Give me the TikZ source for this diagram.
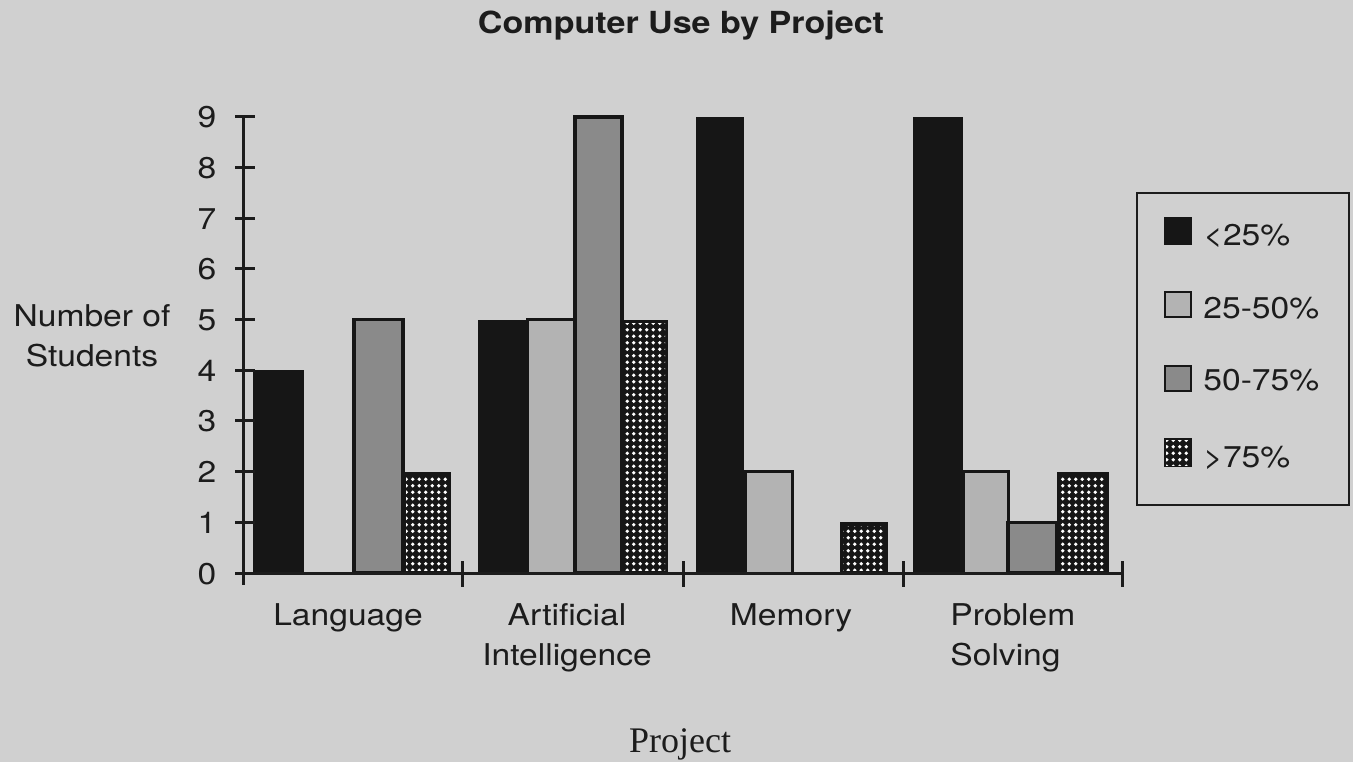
\documentclass[tikz,border=0pt]{standalone}
\usepackage{fontspec}
\usepackage{graphicx}
\setmainfont{TeX Gyre Heros}
\newfontfamily\projserif{Liberation Serif}
\usetikzlibrary{patterns}
\pgfdeclarepatternformonly{bigdots}{\pgfqpoint{-1pt}{-1pt}}{\pgfqpoint{4.3pt}{4.3pt}}{\pgfqpoint{3.25pt}{3.25pt}}{\pgfpathcircle{\pgfqpoint{1.6pt}{1.6pt}}{0.95pt}\pgfusepath{fill}}
\definecolor{bg}{HTML}{D0D0D0}
\definecolor{ink}{HTML}{1C1C1C}
\definecolor{barblack}{HTML}{161616}
\definecolor{lightg}{HTML}{B3B3B3}
\definecolor{darkg}{HTML}{8A8A8A}
\newcommand{\hstr}[1]{\scalebox{1.12}[1]{#1}}
\newcommand{\ybase}{573}
\newcommand{\yunit}{50.7}
\newcommand{\blackbar}[3]{\fill[barblack] (#1,{\ybase-\yunit*#3}) rectangle (#2,\ybase);}
\newcommand{\lightbar}[3]{\draw[lightbarst] (#1,{\ybase-\yunit*#3}) rectangle (#2,\ybase);}
\newcommand{\darkbar}[3]{\draw[darkbarst] (#1,{\ybase-\yunit*#3}) rectangle (#2,\ybase);}
\newcommand{\dotbar}[3]{\fill[barblack] (#1,{\ybase-\yunit*#3}) rectangle (#2,\ybase);
  \fill[pattern=bigdots,pattern color=white] ({#1+3},{\ybase-\yunit*#3+4}) rectangle ({#2-3},{\ybase-3});}
\begin{document}
\begin{tikzpicture}[x=0.5pt,y=-0.5pt,
  lbl/.style={font=\fontsize{15}{20}\selectfont, text=ink, inner sep=0pt},
  lightbarst/.style={fill=lightg, draw=barblack, line width=1.5pt},
  darkbarst/.style={fill=darkg, draw=barblack, line width=1.8pt},
  axisline/.style={draw=ink, line width=1.5pt},
  legbox/.style={draw=ink, line width=1.2pt}]
\fill[bg] (0,0) rectangle (1353,762);
\useasboundingbox (0,0) rectangle (1353,762);

% title
\node[lbl, font=\fontsize{15.2}{18}\bfseries\selectfont, anchor=base] (title) at (681,33) {\hstr{Computer Use by Project}};

% bars: Language
\blackbar{253}{304}{4}
\darkbar{354}{403}{5}
\dotbar{403}{451}{2}
% Artificial Intelligence
\blackbar{478}{527}{5}
\lightbar{527}{575}{5}
\darkbar{575}{622}{9}
\dotbar{622}{668}{5}
% Memory
\blackbar{696}{744}{9}
\lightbar{745}{792}{2}
\dotbar{840}{888}{1}
% Problem Solving
\blackbar{913}{963}{9}
\lightbar{963}{1008}{2}
\darkbar{1008}{1057}{1}
\dotbar{1057}{1109}{2}

% axes
\coordinate (ytop) at (243,116);
\coordinate (ybot) at (243,585);
\coordinate (xleft) at (243,573);
\coordinate (xright) at (1122,573);
\draw[axisline] (ytop) -- (ybot);
\draw[axisline] (xleft) -- (xright);
\foreach \v in {0,...,9} {
  \draw[axisline] (235,{\ybase-\yunit*\v}) -- (255,{\ybase-\yunit*\v});
  \node[lbl, anchor=base] (yl\v) at (207,{\ybase-\yunit*\v+11}) {\hstr{\v}};
}
\foreach \xx in {462,683,903,1122} {
  \draw[axisline] (\xx,561) -- (\xx,587);
}

% axis titles
\node[lbl, align=center, anchor=north] (ytitle) at (92,304) {\hstr{Number of}\\\hstr{Students}};
\node[lbl, anchor=base, font=\fontsize{18}{20}\projserif\selectfont] (xtitle) at (680,752) {Project};

% category labels
\node[lbl, anchor=base] (c1) at (348,625) {\hstr{Language}};
\node[lbl, align=center, anchor=north] (c2) at (567,603) {\hstr{Artificial}\\\hstr{Intelligence}};
\node[lbl, anchor=base] (c3) at (791,625) {\hstr{Memory}};
\node[lbl, align=left, anchor=north west] (c4) at (950,603) {\hstr{Problem}\\\hstr{Solving}};

% legend
\draw[legbox] (1137,193) rectangle (1349,505);
\fill[barblack] (1164,217) rectangle (1192,245);
\node[lbl, anchor=base west] (l1) at (1203,245) {\hstr{<25\%}};
\draw[lightbarst, line width=1.2pt] (1165,292) rectangle (1191,317);
\node[lbl, anchor=base west] (l2) at (1203,318) {\hstr{25-50\%}};
\draw[darkbarst, line width=1.4pt] (1165,366) rectangle (1191,391);
\node[lbl, anchor=base west] (l3) at (1203,390) {\hstr{50-75\%}};
\fill[barblack] (1164,438) rectangle (1192,467);
\fill[pattern=bigdots,pattern color=white] (1166,440) rectangle (1190,465);
\node[lbl, anchor=base west] (l4) at (1203,467) {\hstr{>75\%}};
\end{tikzpicture}
\end{document}
